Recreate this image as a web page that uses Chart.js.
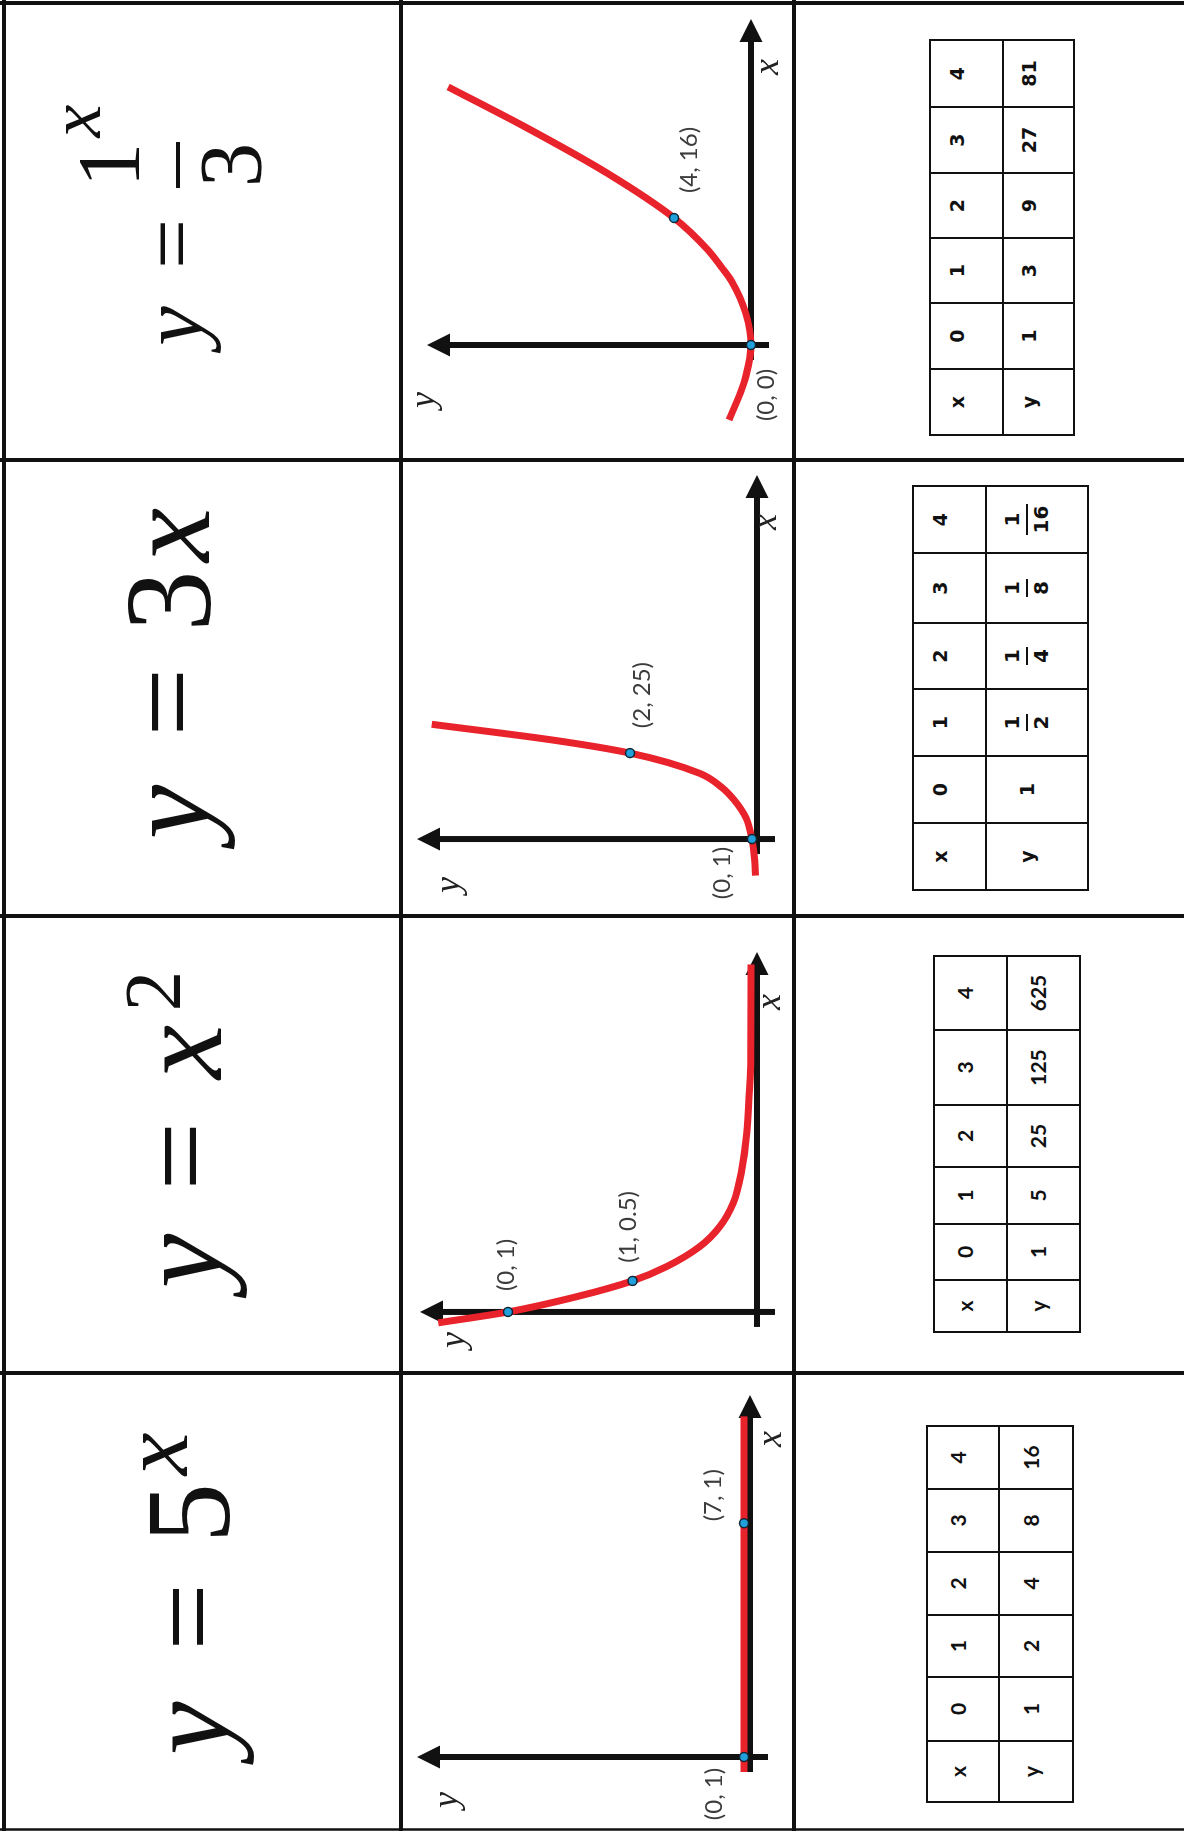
<!DOCTYPE html>
<html>
<head>
<meta charset="utf-8">
<title>Exponential matching cards</title>
<script src="https://cdn.jsdelivr.net/npm/chart.js@4.4.1/dist/chart.umd.min.js"></script>
<style>
    html, body { margin: 0; padding: 0; background: #fff; overflow: hidden; }
    body { width: 1184px; height: 1831px; position: relative; }
    /* the sheet is laid out in landscape and turned a quarter to the left */
    #sheet {
        position: absolute; left: 0; top: 0;
        width: 1831px; height: 1184px;
        transform-origin: 0 0;
        transform: translateY(1831px) rotate(-90deg);
        background: #fff;
    }
    #sheet canvas, #sheet svg, .tbl { position: absolute; }
    .tbl { color: #111; }
    .cell {
        position: absolute; box-sizing: border-box;
        border: 2px solid #111;
        display: flex; align-items: center; justify-content: center;
    }
    .frac { display: inline-flex; flex-direction: column; align-items: center; font-size: 20px; line-height: 21px; }
    .frac .bar { align-self: stretch; height: 2px; background: #111; margin: 3px -2px; }
</style>
</head>
<body>
<div id="sheet"></div>
<script>
// table values
const xValues = [0, 1, 2, 3, 4];
const tableDoubling = [1, 2, 4, 8, 16];
const tableFives = [1, 5, 25, 125, 625];
const tableHalves = ['1', '1/2', '1/4', '1/8', '1/16'];
const tableThrees = [1, 3, 9, 27, 81];

// graph curves
const flatX = [-0.45, 0, 7, 10.2];
const flatY = [1, 1, 1, 1];
const halfX = [-0.35, 0, 0.5, 1, 1.46, 2.11, 2.75, 3.51, 4.58, 5.76, 7.05, 8.13, 11.2];
const halfY = [1.28, 1, 0.72, 0.5, 0.363, 0.229, 0.149, 0.095, 0.061, 0.041, 0.031, 0.025, 0.024];
const fiveX = [-0.85, -0.5, 0, 0.5, 0.91, 1.2, 1.53, 2, 2.3, 2.67];
const fiveY = [0.3, 0.45, 1, 2.2, 4.5, 6.9, 11.3, 25, 40, 64];
const squareX = [-2.36, -1.5, -1, 0, 1, 2, 2.46, 3, 4, 5.42, 6.83, 8.13];
const squareY = [4.6, 2.2, 1.1, 0, 1.1, 4, 6.2, 9, 16, 30, 46.5, 63];

// marked points
const flatPtsX = [0, 7];
const flatPtsY = [1, 1];
const halfPtsX = [0, 1];
const halfPtsY = [1, 0.5];
const fivePtsX = [0, 2];
const fivePtsY = [1, 25];
const squarePtsX = [0, 4];
const squarePtsY = [0, 16];

const RED = '#e9232b';
const INK = '#111';
const sheet = document.getElementById('sheet');
const SVGNS = 'http://www.w3.org/2000/svg';

function pairs(xs, ys) {
    return xs.map(function(x, i) { return { x: x, y: ys[i] }; });
}

/**
 * Card borders and the equations
 */
const svg = document.createElementNS(SVGNS, 'svg');
svg.setAttribute('width', 1831);
svg.setAttribute('height', 1184);
svg.style.left = '0px';
svg.style.top = '0px';
sheet.appendChild(svg);

function line(x1, y1, x2, y2, w) {
    const l = document.createElementNS(SVGNS, 'line');
    l.setAttribute('x1', x1); l.setAttribute('y1', y1);
    l.setAttribute('x2', x2); l.setAttribute('y2', y2);
    l.setAttribute('stroke', INK);
    l.setAttribute('stroke-width', w);
    svg.appendChild(l);
}

[4, 401, 794].forEach(function(y) { line(0, y, 1831, y, 4); });
[458, 915, 1371, 1828].forEach(function(x) { line(x, 0, x, 1184, 4); });
line(1.5, 0, 1.5, 1184, 2.5);

const eqFont = "'Liberation Serif', 'Times New Roman', serif";
// [text, centre x, baseline, size, italic]
const eqPieces = [
    ['y', 103, 228, 120, true], ['=', 214, 228, 120, false], ['5', 318, 229, 120, false], ['x', 377, 187, 96, true],
    ['y', 570, 221, 122, true], ['=', 675, 221, 122, false], ['x', 779, 221, 122, true], ['2', 840, 180, 81, false],
    ['y', 1019, 209, 122, true], ['=', 1129, 208, 122, false], ['3', 1230, 210, 122, false], ['x', 1296, 209, 122, true],
    ['y', 1505, 202, 89, true], ['=', 1587, 201, 89, false], ['1', 1666, 138, 89, false], ['x', 1710, 100, 74, true],
    ['3', 1666, 260, 89, false]
];
eqPieces.forEach(function(p) {
    const t = document.createElementNS(SVGNS, 'text');
    t.textContent = p[0];
    t.setAttribute('x', p[1]);
    t.setAttribute('y', p[2]);
    t.setAttribute('font-size', p[3]);
    t.setAttribute('font-family', eqFont);
    t.setAttribute('text-anchor', 'middle');
    t.setAttribute('fill', INK);
    if (p[4]) t.setAttribute('font-style', 'italic');
    svg.appendChild(t);
});
line(1643, 178, 1689, 178, 4);

/**
 * Tables of values
 */
function fmt(v) {
    const s = String(v);
    if (s.indexOf('/') < 0) return s;
    const parts = s.split('/');
    return '<span class="frac"><span>' + parts[0] + '</span><span class="bar"></span><span>' + parts[1] + '</span></span>';
}

function makeTable(box, values) {
    const wrap = document.createElement('div');
    wrap.className = 'tbl';
    wrap.style.left = box.left + 'px';
    wrap.style.top = box.top + 'px';
    wrap.style.font = box.font;
    const rows = [['x'].concat(xValues), ['y'].concat(values)];
    let yPos = 0;
    rows.forEach(function(row, r) {
        let xPos = 0;
        row.forEach(function(v, c) {
            const cell = document.createElement('div');
            cell.className = 'cell';
            cell.style.left = (xPos - 1) + 'px';
            cell.style.top = (yPos - 1) + 'px';
            cell.style.width = (box.widths[c] + 2) + 'px';
            cell.style.height = (box.heights[r] + 2) + 'px';
            cell.style.paddingBottom = box.lift + 'px';
            cell.innerHTML = fmt(v);
            wrap.appendChild(cell);
            xPos += box.widths[c];
        });
        yPos += box.heights[r];
    });
    sheet.appendChild(wrap);
}

makeTable({ left: 29, top: 927, widths: [61, 64, 62, 63, 63, 63], heights: [72, 74], font: "700 21px Lato", lift: 12 }, tableDoubling);
makeTable({ left: 499, top: 934, widths: [52, 56, 57, 62, 75, 74], heights: [73, 73], font: "700 21px Lato", lift: 12 }, tableFives);
makeTable({ left: 941, top: 913, widths: [67, 67, 67, 66, 70, 67], heights: [73, 102], font: "700 19px 'DejaVu Sans'", lift: 20 }, tableHalves);
makeTable({ left: 1396, top: 930, widths: [66, 66, 65, 65, 66, 67], heights: [73, 71], font: "700 19px 'DejaVu Sans'", lift: 20 }, tableThrees);

/**
 * Graphs: arrow axes through zero and labelled points
 */
const arrowAxes = {
    id: 'arrowAxes',
    beforeDatasetsDraw: function(chart, args, opts) {
        const ctx = chart.ctx, a = chart.chartArea;
        const ox = chart.scales.x.getPixelForValue(0);
        const oy = chart.scales.y.getPixelForValue(0);
        ctx.save();
        ctx.strokeStyle = INK;
        ctx.fillStyle = INK;
        ctx.lineWidth = 6;
        ctx.beginPath();
        ctx.moveTo(ox - 15, oy); ctx.lineTo(a.right - 18, oy);
        ctx.moveTo(ox, oy + 18); ctx.lineTo(ox, a.top + 18);
        ctx.stroke();
        ctx.beginPath();
        ctx.moveTo(a.right, oy); ctx.lineTo(a.right - 23, oy - 11.5); ctx.lineTo(a.right - 23, oy + 11.5);
        ctx.closePath();
        ctx.moveTo(ox, a.top); ctx.lineTo(ox - 11.5, a.top + 23); ctx.lineTo(ox + 11.5, a.top + 23);
        ctx.closePath();
        ctx.fill();

        ctx.font = "italic 36px 'Liberation Serif', serif";
        ctx.fillStyle = '#222';
        ctx.textAlign = 'center';
        ctx.textBaseline = 'alphabetic';
        ctx.fillText('x', a.right + opts.xLabel[0], oy + opts.xLabel[1] + 8);
        ctx.fillText('y', ox + opts.yLabel[0], a.top + opts.yLabel[1] + 4);
        ctx.restore();
    }
};

const pointLabels = {
    id: 'pointLabels',
    afterDatasetsDraw: function(chart, args, opts) {
        const ctx = chart.ctx;
        const meta = chart.getDatasetMeta(0);
        const data = chart.data.datasets[0].data;
        ctx.save();
        ctx.font = "24px Lato, 'Open Sans', sans-serif";
        ctx.fillStyle = '#3c3c3c';
        ctx.textAlign = 'center';
        ctx.textBaseline = 'middle';
        meta.data.forEach(function(el, i) {
            const off = opts.offsets[i];
            ctx.fillText('(' + data[i].x + ', ' + data[i].y + ')', el.x + off[0], el.y + off[1]);
        });
        ctx.restore();
    }
};

function makeGraph(g) {
    const cell = g.cell;
    const canvas = document.createElement('canvas');
    canvas.width = cell[2] - cell[0];
    canvas.height = cell[3] - cell[1];
    canvas.style.left = cell[0] + 'px';
    canvas.style.top = cell[1] + 'px';
    sheet.appendChild(canvas);

    new Chart(canvas, {
        type: 'scatter',
        data: {
            datasets: [{
                data: g.points,
                pointRadius: 4.5,
                pointBackgroundColor: '#22a0dc',
                pointBorderColor: '#0e2733',
                pointBorderWidth: 1.5,
                clip: false,
                order: 0
            }, {
                data: g.curve,
                showLine: true,
                borderColor: RED,
                borderWidth: 7,
                pointRadius: 0,
                cubicInterpolationMode: 'monotone',
                clip: false,
                order: 1
            }]
        },
        options: {
            responsive: false,
            animation: false,
            events: [],
            layout: {
                autoPadding: false,
                padding: {
                    left: g.area[0] - cell[0],
                    top: g.area[1] - cell[1],
                    right: cell[2] - g.area[2],
                    bottom: cell[3] - g.area[3]
                }
            },
            scales: {
                x: { type: 'linear', display: false, min: g.xRange[0], max: g.xRange[1] },
                y: { type: 'linear', display: false, min: g.yRange[0], max: g.yRange[1] }
            },
            plugins: {
                legend: { display: false },
                tooltip: { enabled: false },
                arrowAxes: { xLabel: g.xLabel, yLabel: g.yLabel },
                pointLabels: { offsets: g.offsets }
            }
        },
        plugins: [arrowAxes, pointLabels]
    });
}

// cell and area are [left, top, right, bottom] on the landscape sheet
makeGraph({
    cell: [4, 404, 456, 792], area: [4, 417, 436, 792],
    xRange: [-2.096, 10.84], yRange: [-7, 55.5],
    curve: pairs(flatX, flatY), points: pairs(flatPtsX, flatPtsY),
    offsets: [[-37, -30], [28, -31]], xLabel: [-44, 23], yLabel: [-43, 36]
});
makeGraph({
    cell: [460, 404, 913, 792], area: [460, 420, 879, 792],
    xRange: [-1.903, 11.6], yRange: [-0.1406, 1.353],
    curve: pairs(halfX, halfY), points: pairs(halfPtsX, halfPtsY),
    offsets: [[47, -2], [54, -4]], xLabel: [-50, 15], yLabel: [-28, 40]
});
makeGraph({
    cell: [917, 404, 1369, 792], area: [917, 417, 1356, 792],
    xRange: [-1.744, 8.47], yRange: [-6.89, 66.9],
    curve: pairs(fiveX, fiveY), points: pairs(fivePtsX, fivePtsY),
    offsets: [[-34, -30], [58, 12]], xLabel: [-47, 11], yLabel: [-46, 38]
});
makeGraph({
    cell: [1373, 404, 1826, 792], area: [1373, 427, 1812, 792],
    xRange: [-3.56, 10.27], yRange: [-8.52, 67.4],
    curve: pairs(squareX, squareY), points: pairs(squarePtsX, squarePtsY),
    offsets: [[-50, 15], [58, 15]], xLabel: [-48, 19], yLabel: [-55, 3]
});
</script>
</body>
</html>
